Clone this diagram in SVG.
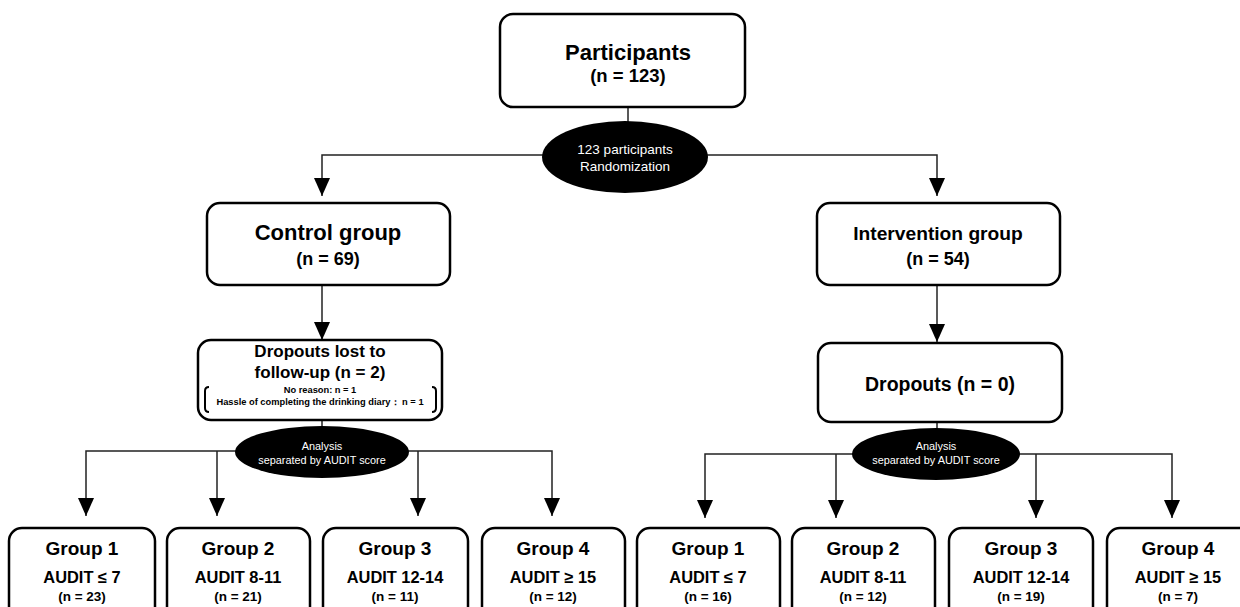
<svg xmlns="http://www.w3.org/2000/svg" width="1240" height="607" viewBox="0 0 1240 607">
<style>
.box{fill:#fff;stroke:#000;stroke-width:2.5}
.ell{fill:#000}
.ln{fill:none;stroke:#222;stroke-width:1.5}
.t{font-family:"Liberation Sans",Arial,sans-serif;font-weight:bold;fill:#000;text-anchor:middle}
.w{font-family:"Liberation Sans",Arial,sans-serif;fill:#fff;text-anchor:middle}
.br{fill:none;stroke:#000;stroke-width:2}
.g{font-size:19px}
.a{font-size:16.4px}
.n{font-size:13.5px}
</style>
<defs>
<marker id="ah" markerUnits="userSpaceOnUse" markerWidth="18" markerHeight="16" refX="18" refY="8" orient="auto">
<path d="M0,0 L18,8 L0,16 z" fill="#000"/>
</marker>
</defs>
<rect width="1240" height="607" fill="#fff"/>
<g id="connectors">
<line class="ln" x1="628" y1="107" x2="628" y2="122"/>
<path class="ln" d="M625,155 H322 V196" marker-end="url(#ah)"/>
<path class="ln" d="M625,155 H937 V196" marker-end="url(#ah)"/>
<path class="ln" d="M322,285 V340" marker-end="url(#ah)"/>
<path class="ln" d="M937,285 V342" marker-end="url(#ah)"/>
<line class="ln" x1="322" y1="420" x2="322" y2="428"/>
<line class="ln" x1="937" y1="422" x2="937" y2="430"/>
<path class="ln" d="M322,451 H86 V516" marker-end="url(#ah)"/>
<path class="ln" d="M217,451 V516" marker-end="url(#ah)"/>
<path class="ln" d="M322,451 H552 V516" marker-end="url(#ah)"/>
<path class="ln" d="M418,451 V516" marker-end="url(#ah)"/>
<path class="ln" d="M936,454 H705 V518" marker-end="url(#ah)"/>
<path class="ln" d="M836,454 V518" marker-end="url(#ah)"/>
<path class="ln" d="M936,454 H1172 V518" marker-end="url(#ah)"/>
<path class="ln" d="M1036,454 V518" marker-end="url(#ah)"/>
</g>
<g id="participants">
<rect class="box" x="500" y="14" width="245" height="93" rx="13"/>
<text class="t" x="628" y="60" font-size="22">Participants</text>
<text class="t" x="628" y="82" font-size="18.5">(n = 123)</text>
</g>
<g id="randomization">
<ellipse class="ell" cx="625" cy="157" rx="83" ry="36"/>
<text class="w" x="625" y="154" font-size="13.5">123 participants</text>
<text class="w" x="625" y="171" font-size="13.5">Randomization</text>
</g>
<g id="control">
<rect class="box" x="207" y="203" width="243" height="82" rx="13"/>
<text class="t" x="328" y="240" font-size="22">Control group</text>
<text class="t" x="328" y="265" font-size="18">(n = 69)</text>
</g>
<g id="intervention">
<rect class="box" x="817" y="203" width="243" height="82" rx="13"/>
<text class="t" x="938" y="240" font-size="19.2">Intervention group</text>
<text class="t" x="938" y="265" font-size="18">(n = 54)</text>
</g>
<g id="dropouts-control">
<rect class="box" x="198" y="340" width="244" height="80" rx="13"/>
<text class="t" x="320" y="357" font-size="17">Dropouts lost to</text>
<text class="t" x="320" y="378" font-size="17">follow-up (n = 2)</text>
<text class="t" x="320" y="393" font-size="9.3">No reason: n = 1</text>
<text class="t" x="320" y="405" font-size="9.3">Hassle of completing the drinking diary： n = 1</text>
<path class="br" d="M209,387 Q205,387 205,391 V408 Q205,412 209,412"/>
<path class="br" d="M432,387 Q436,387 436,391 V408 Q436,412 432,412"/>
</g>
<g id="dropouts-intervention">
<rect class="box" x="818" y="343" width="244" height="79" rx="13"/>
<text class="t" x="940" y="391" font-size="19.5">Dropouts (n = 0)</text>
</g>
<g id="analysis-control">
<ellipse class="ell" cx="322" cy="452" rx="87" ry="26"/>
<text class="w" x="322" y="450" font-size="10.9">Analysis</text>
<text class="w" x="322" y="464" font-size="10.9">separated by AUDIT score</text>
</g>
<g id="analysis-intervention">
<ellipse class="ell" cx="936" cy="454" rx="84" ry="26"/>
<text class="w" x="936" y="450" font-size="10.9">Analysis</text>
<text class="w" x="936" y="464" font-size="10.9">separated by AUDIT score</text>
</g>
<g id="c-group1">
<rect class="box" x="9" y="528" width="146" height="100" rx="13"/>
<text class="t g" x="82" y="555">Group 1</text>
<text class="t a" x="82" y="583">AUDIT ≤ 7</text>
<text class="t n" x="82" y="601">(n = 23)</text>
</g>
<g id="c-group2">
<rect class="box" x="167" y="528" width="143" height="100" rx="13"/>
<text class="t g" x="238" y="555">Group 2</text>
<text class="t a" x="238" y="583">AUDIT 8-11</text>
<text class="t n" x="238" y="601">(n = 21)</text>
</g>
<g id="c-group3">
<rect class="box" x="323" y="528" width="145" height="100" rx="13"/>
<text class="t g" x="395" y="555">Group 3</text>
<text class="t a" x="395" y="583">AUDIT 12-14</text>
<text class="t n" x="395" y="601">(n = 11)</text>
</g>
<g id="c-group4">
<rect class="box" x="482" y="528" width="143" height="100" rx="13"/>
<text class="t g" x="553" y="555">Group 4</text>
<text class="t a" x="553" y="583">AUDIT ≥ 15</text>
<text class="t n" x="553" y="601">(n = 12)</text>
</g>
<g id="i-group1">
<rect class="box" x="637" y="528" width="143" height="100" rx="13"/>
<text class="t g" x="708" y="555">Group 1</text>
<text class="t a" x="708" y="583">AUDIT ≤ 7</text>
<text class="t n" x="708" y="601">(n = 16)</text>
</g>
<g id="i-group2">
<rect class="box" x="792" y="528" width="143" height="100" rx="13"/>
<text class="t g" x="863" y="555">Group 2</text>
<text class="t a" x="863" y="583">AUDIT 8-11</text>
<text class="t n" x="863" y="601">(n = 12)</text>
</g>
<g id="i-group3">
<rect class="box" x="949" y="528" width="144" height="100" rx="13"/>
<text class="t g" x="1021" y="555">Group 3</text>
<text class="t a" x="1021" y="583">AUDIT 12-14</text>
<text class="t n" x="1021" y="601">(n = 19)</text>
</g>
<g id="i-group4">
<rect class="box" x="1107" y="528" width="145" height="100" rx="13"/>
<text class="t g" x="1178" y="555">Group 4</text>
<text class="t a" x="1178" y="583">AUDIT ≥ 15</text>
<text class="t n" x="1178" y="601">(n = 7)</text>
</g>
</svg>
